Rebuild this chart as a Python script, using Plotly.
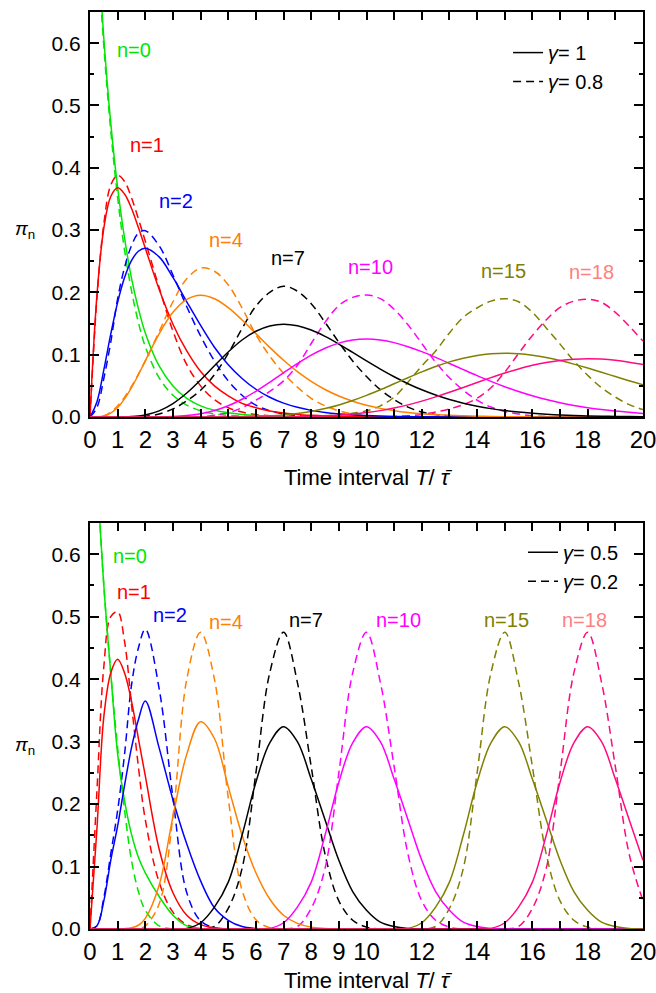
import plotly.graph_objects as go

# ---------------- data ----------------
T = [0, 0.25, 0.5, 0.75, 1, 1.25, 1.5, 1.75, 2,
     2.5, 3, 3.5, 4, 4.5, 5, 5.5, 6, 6.5, 7,
     7.5, 8, 8.5, 9, 9.5, 10, 10.5, 11, 11.5, 12,
     12.5, 13, 13.5, 14, 14.5, 15, 15.5, 16, 16.5, 17,
     17.5, 18, 18.5, 19, 19.5, 20]

n_labels = ['n=0', 'n=1', 'n=2', 'n=4', 'n=7', 'n=10', 'n=15', 'n=18']

# top panel, gamma = 1 (solid)
g1_n0 = [1, 0.779, 0.607, 0.472, 0.368, 0.287, 0.223, 0.174, 0.135,
         0.082, 0.050, 0.030, 0.018, 0.011, 0.0067, 0.0041, 0.0025, 0.0015, 0.0009,
         0.0006, 0.0003, 0, 0, 0, 0, 0, 0, 0, 0,
         0, 0, 0, 0, 0, 0, 0, 0, 0, 0,
         0, 0, 0, 0, 0, 0]
g1_n1 = [0, 0.195, 0.303, 0.354, 0.368, 0.358, 0.335, 0.304, 0.271,
         0.205, 0.149, 0.106, 0.073, 0.050, 0.034, 0.022, 0.015, 0.0098, 0.0064,
         0.0041, 0.0027, 0.0017, 0.0011, 0.0007, 0.0005, 0.0003, 0.0002, 0, 0,
         0, 0, 0, 0, 0, 0, 0, 0, 0, 0,
         0, 0, 0, 0, 0, 0]
g1_n2 = [0, 0.0243, 0.0758, 0.1329, 0.184, 0.2238, 0.251, 0.2661, 0.271,
         0.257, 0.224, 0.185, 0.147, 0.112, 0.084, 0.0619, 0.0446, 0.0318, 0.0223,
         0.0156, 0.0107, 0.0073, 0.0050, 0.0034, 0.0023, 0.0015, 0.0010, 0.0007, 0.0004,
         0.0003, 0.0002, 0, 0, 0, 0, 0, 0, 0, 0,
         0, 0, 0, 0, 0, 0]
g1_n4 = [0, 0.0001, 0.0016, 0.0062, 0.0153, 0.0291, 0.0471, 0.0679, 0.0902,
         0.1336, 0.168, 0.1888, 0.1954, 0.1898, 0.1755, 0.1558, 0.1339, 0.1118, 0.0912,
         0.0729, 0.0573, 0.0442, 0.0337, 0.0254, 0.0189, 0.0139, 0.0102, 0.0074, 0.0053,
         0.0038, 0.0027, 0.0019, 0.0013, 0.0009, 0.0006, 0.0004, 0.0003, 0.0002, 0.0001,
         0, 0, 0, 0, 0, 0]
g1_n7 = [0, 0, 0, 0, 0.0001, 0.0003, 0.0008, 0.0017, 0.0034,
         0.0099, 0.0216, 0.0385, 0.0595, 0.0824, 0.1044, 0.1236, 0.1377, 0.1462, 0.149,
         0.1465, 0.1396, 0.1294, 0.1171, 0.1037, 0.0901, 0.0769, 0.0646, 0.0535, 0.0437,
         0.0353, 0.0281, 0.0222, 0.0174, 0.0135, 0.0104, 0.0079, 0.0060, 0.0045, 0.0034,
         0.0025, 0.0018, 0.0013, 0.0010, 0.0007, 0.0005]
g1_n10 = [0, 0, 0, 0, 0, 0, 0, 0, 0,
          0.0002, 0.0008, 0.0023, 0.0053, 0.0104, 0.0181, 0.0285, 0.0413, 0.0558, 0.0710,
          0.0858, 0.0993, 0.1104, 0.1186, 0.1235, 0.1251, 0.1236, 0.1194, 0.1129, 0.1049,
          0.0957, 0.0860, 0.0761, 0.0664, 0.0572, 0.0487, 0.0410, 0.0341, 0.0281, 0.0230,
          0.0186, 0.0150, 0.0120, 0.0095, 0.0075, 0.0058]
g1_n15 = [0, 0, 0, 0, 0, 0, 0, 0, 0,
          0, 0, 0, 0, 0, 0.0002, 0.0004, 0.0009, 0.0018, 0.0033,
          0.0057, 0.0090, 0.0136, 0.0194, 0.0265, 0.0347, 0.0438, 0.0534, 0.0631, 0.0724,
          0.0810, 0.0885, 0.0944, 0.0989, 0.1015, 0.1024, 0.1016, 0.0992, 0.0955, 0.0906,
          0.0849, 0.0786, 0.0719, 0.0650, 0.0582, 0.0516]
g1_n18 = [0, 0, 0, 0, 0, 0, 0, 0, 0,
          0, 0, 0, 0, 0, 0, 0, 0, 0.0001, 0.0002,
          0.0005, 0.0009, 0.0017, 0.0029, 0.0047, 0.0071, 0.0103, 0.0145, 0.0195, 0.0255,
          0.0323, 0.0397, 0.0475, 0.0554, 0.0632, 0.0706, 0.0772, 0.0830, 0.0876, 0.0909,
          0.0929, 0.0936, 0.0930, 0.0911, 0.0881, 0.0844]

# top panel, gamma = 0.8 (dashed)
g08_n0 = [1, 0.77, 0.595, 0.46, 0.352, 0.268, 0.203, 0.152, 0.113,
          0.063, 0.035, 0.019, 0.010, 0.005, 0.0027, 0.0014, 0.0007, 0.0003, 0.0001,
          0, 0, 0, 0, 0, 0, 0, 0, 0, 0,
          0, 0, 0, 0, 0, 0, 0, 0, 0, 0,
          0, 0, 0, 0, 0, 0]
g08_n1 = [0, 0.19, 0.31, 0.372, 0.388, 0.378, 0.352, 0.318, 0.282,
          0.208, 0.138, 0.084, 0.050, 0.028, 0.015, 0.008, 0.004, 0.002, 0.001,
          0, 0, 0, 0, 0, 0, 0, 0, 0, 0,
          0, 0, 0, 0, 0, 0, 0, 0, 0, 0,
          0, 0, 0, 0, 0, 0]
g08_n2 = [0, 0.015, 0.062, 0.12, 0.19, 0.24, 0.275, 0.295, 0.299,
          0.275, 0.228, 0.177, 0.13, 0.09, 0.058, 0.035, 0.019, 0.01, 0.005,
          0.002, 0.001, 0, 0, 0, 0, 0, 0, 0, 0,
          0, 0, 0, 0, 0, 0, 0, 0, 0, 0,
          0, 0, 0, 0, 0, 0]
g08_n4 = [0, 0, 0.002, 0.008, 0.018, 0.032, 0.049, 0.069, 0.09,
          0.137, 0.185, 0.222, 0.239, 0.234, 0.212, 0.175, 0.132, 0.098, 0.07,
          0.048, 0.03, 0.018, 0.01, 0.005, 0.002, 0.001, 0, 0, 0,
          0, 0, 0, 0, 0, 0, 0, 0, 0, 0,
          0, 0, 0, 0, 0, 0]
g08_n7 = [0, 0, 0, 0, 0, 0, 0, 0, 0.001,
          0.005, 0.013, 0.026, 0.043, 0.068, 0.102, 0.142, 0.178, 0.2, 0.21,
          0.202, 0.182, 0.152, 0.12, 0.09, 0.065, 0.044, 0.028, 0.016, 0.008,
          0.004, 0.002, 0.001, 0, 0, 0, 0, 0, 0, 0,
          0, 0, 0, 0, 0, 0]
g08_n10 = [0, 0, 0, 0, 0, 0, 0, 0, 0,
           0, 0, 0, 0, 0.003, 0.007, 0.015, 0.027, 0.041, 0.058,
           0.083, 0.118, 0.152, 0.179, 0.192, 0.196, 0.19, 0.173, 0.148, 0.118,
           0.088, 0.063, 0.043, 0.027, 0.016, 0.009, 0.005, 0.002, 0.001, 0,
           0, 0, 0, 0, 0, 0]
g08_n15 = [0, 0, 0, 0, 0, 0, 0, 0, 0,
           0, 0, 0, 0, 0, 0, 0, 0, 0, 0,
           0, 0.001, 0.002, 0.004, 0.006, 0.010, 0.018, 0.032, 0.056, 0.082,
           0.106, 0.135, 0.16, 0.175, 0.186, 0.19, 0.185, 0.168, 0.143, 0.117,
           0.09, 0.067, 0.047, 0.032, 0.02, 0.012]
g08_n18 = [0, 0, 0, 0, 0, 0, 0, 0, 0,
           0, 0, 0, 0, 0, 0, 0, 0, 0, 0,
           0, 0, 0, 0, 0, 0, 0, 0.001, 0.002, 0.004,
           0.008, 0.013, 0.02, 0.03, 0.047, 0.072, 0.102, 0.131, 0.156, 0.176,
           0.186, 0.189, 0.184, 0.168, 0.146, 0.122]

# bottom panel, gamma = 0.5 (solid)
g05_n0 = [1, 0.74, 0.55, 0.41, 0.28, 0.205, 0.152, 0.115, 0.09,
          0.052, 0.022, 0.005, 0.001, 0, 0, 0, 0, 0, 0,
          0, 0, 0, 0, 0, 0, 0, 0, 0, 0,
          0, 0, 0, 0, 0, 0, 0, 0, 0, 0,
          0, 0, 0, 0, 0, 0]
g05_n1 = [0, 0.16, 0.34, 0.41, 0.432, 0.41, 0.365, 0.305, 0.245,
          0.128, 0.058, 0.022, 0.007, 0.002, 0, 0, 0, 0, 0,
          0, 0, 0, 0, 0, 0, 0, 0, 0, 0,
          0, 0, 0, 0, 0, 0, 0, 0, 0, 0,
          0, 0, 0, 0, 0, 0]
g05_n2 = [0, 0.005, 0.045, 0.11, 0.165, 0.23, 0.29, 0.335, 0.365,
          0.29, 0.207, 0.136, 0.077, 0.034, 0.014, 0.004, 0.001, 0, 0,
          0, 0, 0, 0, 0, 0, 0, 0, 0, 0,
          0, 0, 0, 0, 0, 0, 0, 0, 0, 0,
          0, 0, 0, 0, 0, 0]
g05_n4 = [0, 0, 0, 0, 0, 0.0005, 0.002, 0.006, 0.017,
          0.07, 0.18, 0.28, 0.332, 0.305, 0.228, 0.15, 0.09, 0.048, 0.022,
          0.009, 0.003, 0.001, 0, 0, 0, 0, 0, 0, 0,
          0, 0, 0, 0, 0, 0, 0, 0, 0, 0,
          0, 0, 0, 0, 0, 0]
g05_n7 = [0, 0, 0, 0, 0, 0, 0, 0, 0,
          0, 0, 0.001, 0.01, 0.035, 0.075, 0.15, 0.235, 0.298, 0.324,
          0.3, 0.24, 0.175, 0.11, 0.06, 0.03, 0.011, 0.004, 0.001, 0,
          0, 0, 0, 0, 0, 0, 0, 0, 0, 0,
          0, 0, 0, 0, 0, 0]
g05_n10 = [0, 0, 0, 0, 0, 0, 0, 0, 0,
           0, 0, 0, 0, 0, 0, 0, 0, 0.001, 0.01,
           0.035, 0.075, 0.15, 0.235, 0.298, 0.324, 0.3, 0.24, 0.175, 0.11,
           0.06, 0.03, 0.011, 0.004, 0.001, 0, 0, 0, 0, 0,
           0, 0, 0, 0, 0, 0]
g05_n15 = [0, 0, 0, 0, 0, 0, 0, 0, 0,
           0, 0, 0, 0, 0, 0, 0, 0, 0, 0,
           0, 0, 0, 0, 0, 0, 0, 0, 0.001, 0.01,
           0.035, 0.075, 0.15, 0.235, 0.298, 0.324, 0.3, 0.24, 0.175, 0.11,
           0.06, 0.03, 0.011, 0.004, 0.001, 0]
g05_n18 = [0, 0, 0, 0, 0, 0, 0, 0, 0,
           0, 0, 0, 0, 0, 0, 0, 0, 0, 0,
           0, 0, 0, 0, 0, 0, 0, 0, 0, 0,
           0, 0, 0, 0, 0.001, 0.01, 0.035, 0.075, 0.15, 0.235,
           0.298, 0.324, 0.3, 0.24, 0.175, 0.11]

# bottom panel, gamma = 0.2 (dashed)
g02_n0 = [1, 0.74, 0.55, 0.41, 0.29, 0.19, 0.11, 0.06, 0.03,
          0.005, 0, 0, 0, 0, 0, 0, 0, 0, 0,
          0, 0, 0, 0, 0, 0, 0, 0, 0, 0,
          0, 0, 0, 0, 0, 0, 0, 0, 0, 0,
          0, 0, 0, 0, 0, 0]
g02_n1 = [0, 0.22, 0.42, 0.5, 0.508, 0.46, 0.36, 0.26, 0.175,
          0.075, 0.027, 0.007, 0.001, 0, 0, 0, 0, 0, 0,
          0, 0, 0, 0, 0, 0, 0, 0, 0, 0,
          0, 0, 0, 0, 0, 0, 0, 0, 0, 0,
          0, 0, 0, 0, 0, 0]
g02_n2 = [0, 0.005, 0.05, 0.12, 0.19, 0.28, 0.39, 0.45, 0.48,
          0.385, 0.21, 0.058, 0.013, 0.002, 0, 0, 0, 0, 0,
          0, 0, 0, 0, 0, 0, 0, 0, 0, 0,
          0, 0, 0, 0, 0, 0, 0, 0, 0, 0,
          0, 0, 0, 0, 0, 0]
g02_n4 = [0, 0, 0, 0, 0, 0, 0, 0, 0.005,
          0.04, 0.18, 0.40, 0.475, 0.40, 0.21, 0.062, 0.015, 0.002, 0,
          0, 0, 0, 0, 0, 0, 0, 0, 0, 0,
          0, 0, 0, 0, 0, 0, 0, 0, 0, 0,
          0, 0, 0, 0, 0, 0]
g02_n7 = [0, 0, 0, 0, 0, 0, 0, 0, 0,
          0, 0, 0, 0, 0.004, 0.033, 0.097, 0.25, 0.41, 0.475,
          0.395, 0.26, 0.12, 0.045, 0.014, 0.003, 0, 0, 0, 0,
          0, 0, 0, 0, 0, 0, 0, 0, 0, 0,
          0, 0, 0, 0, 0, 0]
g02_n10 = [0, 0, 0, 0, 0, 0, 0, 0, 0,
           0, 0, 0, 0, 0, 0, 0, 0, 0, 0,
           0.004, 0.033, 0.097, 0.25, 0.41, 0.475, 0.395, 0.26, 0.12, 0.045,
           0.014, 0.003, 0, 0, 0, 0, 0, 0, 0, 0,
           0, 0, 0, 0, 0, 0]
g02_n15 = [0, 0, 0, 0, 0, 0, 0, 0, 0,
           0, 0, 0, 0, 0, 0, 0, 0, 0, 0,
           0, 0, 0, 0, 0, 0, 0, 0, 0, 0,
           0.004, 0.033, 0.097, 0.25, 0.41, 0.475, 0.395, 0.26, 0.12, 0.045,
           0.014, 0.003, 0, 0, 0, 0]
g02_n18 = [0, 0, 0, 0, 0, 0, 0, 0, 0,
           0, 0, 0, 0, 0, 0, 0, 0, 0, 0,
           0, 0, 0, 0, 0, 0, 0, 0, 0, 0,
           0, 0, 0, 0, 0, 0, 0.004, 0.033, 0.097, 0.25,
           0.41, 0.475, 0.395, 0.26, 0.12, 0.045]

x_tickvals = [0, 1, 2, 3, 4, 5, 6, 7, 8, 9, 10, 12, 14, 16, 18, 20]
x_ticktext = ['0', '1', '2', '3', '4', '5', '6', '7', '8', '9', '10', '12', '14', '16', '18', '20']
y_tickvals = [0, 0.1, 0.2, 0.3, 0.4, 0.5, 0.6]
y_ticktext = ['0.0', '0.1', '0.2', '0.3', '0.4', '0.5', '0.6']

# ---------------- styling ----------------
line_colors = ['#00e600', '#ff0000', '#0000ff', '#ff8000', '#000000', '#ff00ff', '#808000', '#ff0a80']
label_colors = ['#00e600', '#ff0000', '#0000ff', '#ff8000', '#000000', '#ff00ff', '#808000', '#ff8080']
top_label_pos = [(1.6, 0.589), (2.06, 0.437), (3.1, 0.346), (4.91, 0.284),
                 (7.17, 0.255), (10.16, 0.24), (14.97, 0.235), (18.14, 0.232)]
bot_label_pos = [(1.45, 0.598), (1.6, 0.539), (2.89, 0.502), (4.91, 0.491),
                 (7.81, 0.494), (11.15, 0.495), (15.05, 0.495), (17.87, 0.495)]

FONT = 'Liberation Sans, Arial, Helvetica, sans-serif'
NARROW = 'Liberation Sans Narrow, Arial Narrow, Liberation Sans, Arial, sans-serif'
DASH = '8px,5px'
LW = 1.5

top_solid = [g1_n0, g1_n1, g1_n2, g1_n4, g1_n7, g1_n10, g1_n15, g1_n18]
top_dash = [g08_n0, g08_n1, g08_n2, g08_n4, g08_n7, g08_n10, g08_n15, g08_n18]
bot_solid = [g05_n0, g05_n1, g05_n2, g05_n4, g05_n7, g05_n10, g05_n15, g05_n18]
bot_dash = [g02_n0, g02_n1, g02_n2, g02_n4, g02_n7, g02_n10, g02_n15, g02_n18]

fig = go.Figure()


def add_set(series_list, dash, xa, ya):
    for vals, col in zip(series_list, line_colors):
        fig.add_trace(go.Scatter(
            x=T[:len(vals)], y=vals, mode='lines', xaxis=xa, yaxis=ya,
            line=dict(color=col, width=LW, dash=dash, shape='spline', smoothing=1.0),
            showlegend=False, hoverinfo='skip'))


add_set(top_dash, DASH, 'x', 'y')
add_set(top_solid, 'solid', 'x', 'y')
add_set(bot_dash, DASH, 'x2', 'y2')
add_set(bot_solid, 'solid', 'x2', 'y2')

# legend entries
fig.add_trace(go.Scatter(x=[None], y=[None], mode='lines', name='<i>γ</i>= 1',
                         line=dict(color='black', width=LW), legend='legend', xaxis='x', yaxis='y'))
fig.add_trace(go.Scatter(x=[None], y=[None], mode='lines', name='<i>γ</i>= 0.8',
                         line=dict(color='black', width=LW, dash=DASH), legend='legend', xaxis='x', yaxis='y'))
fig.add_trace(go.Scatter(x=[None], y=[None], mode='lines', name='<i>γ</i>= 0.5',
                         line=dict(color='black', width=LW), legend='legend2', xaxis='x2', yaxis='y2'))
fig.add_trace(go.Scatter(x=[None], y=[None], mode='lines', name='<i>γ</i>= 0.2',
                         line=dict(color='black', width=LW, dash=DASH), legend='legend2', xaxis='x2', yaxis='y2'))

annotations = []
for (lx, ly), txt, col in zip(top_label_pos, n_labels, label_colors):
    annotations.append(dict(x=lx, y=ly, xref='x', yref='y', text=txt, showarrow=False,
                            xanchor='center', yanchor='middle',
                            font=dict(family=FONT, size=20, color=col)))
for (lx, ly), txt, col in zip(bot_label_pos, n_labels, label_colors):
    annotations.append(dict(x=lx, y=ly, xref='x2', yref='y2', text=txt, showarrow=False,
                            xanchor='center', yanchor='middle',
                            font=dict(family=FONT, size=20, color=col)))
for yy in (0.7623, 0.1996):
    annotations.append(dict(x=-0.118, y=yy, xref='paper', yref='paper',
                            xanchor='center', yanchor='middle',
                            text='<i>π</i><sub>n</sub>', showarrow=False,
                            font=dict(family=FONT, size=19, color='black')))

x_common = dict(range=[0, 20], showline=True, linewidth=2, linecolor='black', mirror='ticks',
                ticks='inside', ticklen=8, tickwidth=1.5, tickcolor='black',
                tickvals=x_tickvals, ticktext=x_ticktext, showgrid=False, zeroline=False,
                automargin=False, ticklabeloverflow='allow',
                tickfont=dict(family=NARROW, size=24, color='black'),
                minor=dict(ticks='inside', ticklen=8, tickwidth=1.5, tickcolor='black',
                           dtick=1, tick0=0, showgrid=False),
                title=dict(text='Time interval <i>T</i>/ <i>τ̄</i>',
                           font=dict(family=FONT, size=22, color='black'), standoff=18))
y_common = dict(range=[0, 0.65], showline=True, linewidth=2, linecolor='black', mirror='ticks',
                ticks='inside', ticklen=9, tickwidth=1.5, tickcolor='black',
                tickvals=y_tickvals, ticktext=y_ticktext, showgrid=False, zeroline=False,
                automargin=False, ticklabelstandoff=3,
                tickfont=dict(family=FONT, size=21, color='black'),
                minor=dict(ticks='inside', ticklen=4, tickwidth=1.5, tickcolor='black',
                           dtick=0.05, tick0=0, showgrid=False))

fig.update_layout(
    width=656, height=993,
    margin=dict(l=90, r=13, t=12, b=64, autoexpand=False),
    paper_bgcolor='white', plot_bgcolor='white',
    font=dict(family=FONT, color='black'),
    xaxis=dict(domain=[0, 1], anchor='y', **x_common),
    yaxis=dict(domain=[0.5583, 1], anchor='x', **y_common),
    xaxis2=dict(domain=[0, 1], anchor='y2', **x_common),
    yaxis2=dict(domain=[0, 0.4427], anchor='x2', **y_common),
    legend=dict(x=0.756, y=0.977, xanchor='left', yanchor='top', bgcolor='rgba(0,0,0,0)',
                font=dict(family=FONT, size=20, color='black'), tracegroupgap=0),
    legend2=dict(x=0.783, y=0.432, xanchor='left', yanchor='top', bgcolor='rgba(0,0,0,0)',
                 font=dict(family=FONT, size=20, color='black'), tracegroupgap=0),
    annotations=annotations,
)

fig.write_html('out.html')
